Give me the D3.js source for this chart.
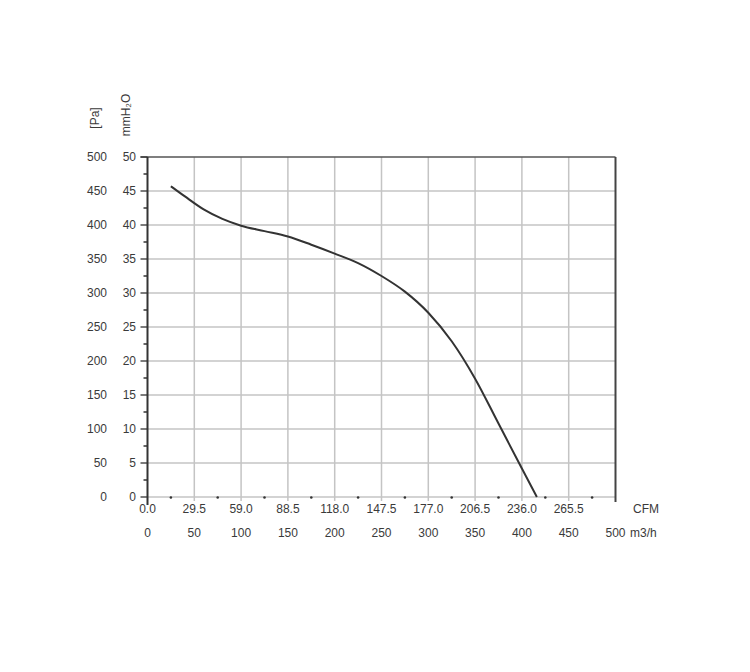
<!DOCTYPE html>
<html>
<head>
<meta charset="utf-8">
<script src="https://cdn.jsdelivr.net/npm/d3@7"></script>
<style>
  html, body { margin: 0; padding: 0; background: #fff; }
  svg text { font-family: "Liberation Sans", Arial, sans-serif; fill: #3a3a3a; }
</style>
</head>
<body>
<svg id="chart" width="750" height="672"></svg>
<script>
// ---- data (airflow m3/h, static pressure Pa) ----
const flowM3h = [25, 40, 60, 80, 100, 125, 150, 175, 200, 225, 250, 275, 300, 325, 350, 375, 400, 416];
const pressurePa = [457, 442, 423, 409, 399, 391, 383, 371, 358, 344, 325, 302, 271, 229, 174, 108, 42, 0];

const m3hTicks = [0, 50, 100, 150, 200, 250, 300, 350, 400, 450, 500];
const cfmLabels = ["0.0", "29.5", "59.0", "88.5", "118.0", "147.5", "177.0", "206.5", "236.0", "265.5"];
const paTicks = [0, 50, 100, 150, 200, 250, 300, 350, 400, 450, 500];
const mmH2OLabels = ["0", "5", "10", "15", "20", "25", "30", "35", "40", "45", "50"];
const dotTicks = [25, 75, 125, 175, 225, 275, 325, 375, 425, 475];
const minorPa = [25, 75, 125, 175, 225, 275, 325, 375, 425, 475];

const svg = d3.select("#chart");
const x = d3.scaleLinear().domain([0, 500]).range([147.5, 615.5]);
const y = d3.scaleLinear().domain([0, 500]).range([497, 157]);

// grid
const g = svg.append("g");
g.selectAll("line.hg").data(paTicks.filter(d => d < 500)).enter().append("line")
  .attr("x1", x(0)).attr("x2", x(500)).attr("y1", d => y(d)).attr("y2", d => y(d))
  .attr("stroke", "#c4c4c4").attr("stroke-width", 1.5);
g.selectAll("line.vg").data(m3hTicks.filter(d => d > 0 && d < 500)).enter().append("line")
  .attr("x1", d => x(d)).attr("x2", d => x(d)).attr("y1", y(500)).attr("y2", y(0) + 4)
  .attr("stroke", "#c4c4c4").attr("stroke-width", 1.5);

// top border
g.append("line").attr("x1", x(0) - 7).attr("x2", x(500)).attr("y1", y(500)).attr("y2", y(500))
  .attr("stroke", "#555").attr("stroke-width", 1.5);
// right border
g.append("line").attr("x1", x(500)).attr("x2", x(500)).attr("y1", y(500)).attr("y2", y(0) + 5)
  .attr("stroke", "#444").attr("stroke-width", 2);
// left axis
g.append("line").attr("x1", x(0)).attr("x2", x(0)).attr("y1", y(500)).attr("y2", y(0) + 8)
  .attr("stroke", "#333").attr("stroke-width", 2);
// left major ticks
g.selectAll("line.mt").data(paTicks).enter().append("line")
  .attr("x1", x(0) - 7).attr("x2", x(0)).attr("y1", d => y(d)).attr("y2", d => y(d))
  .attr("stroke", "#333").attr("stroke-width", 1.3);
// left minor ticks
g.selectAll("line.mn").data(minorPa).enter().append("line")
  .attr("x1", x(0) - 4).attr("x2", x(0)).attr("y1", d => y(d)).attr("y2", d => y(d))
  .attr("stroke", "#333").attr("stroke-width", 1.5);
// bottom dots
g.selectAll("circle.dt").data(dotTicks).enter().append("circle")
  .attr("cx", d => x(d)).attr("cy", y(0) + 0.5).attr("r", 1.3).attr("fill", "#333");

// y labels
svg.selectAll("text.pa").data(paTicks).enter().append("text")
  .attr("x", 107).attr("y", d => y(d) + 4).attr("text-anchor", "end")
  .attr("font-size", 12).text(d => d);
svg.selectAll("text.mm").data(paTicks).enter().append("text")
  .attr("x", 136).attr("y", d => y(d) + 4).attr("text-anchor", "end")
  .attr("font-size", 12).text((d, i) => mmH2OLabels[i]);

// axis titles (rotated)
svg.append("text").attr("transform", "translate(99,118) rotate(-90)")
  .attr("text-anchor", "middle").attr("font-size", 12).text("[Pa]");
svg.append("text").attr("transform", "translate(130,115) rotate(-90)")
  .attr("text-anchor", "middle").attr("font-size", 12).text("mmH₂O");

// x labels
svg.selectAll("text.cfm").data(cfmLabels).enter().append("text")
  .attr("x", (d, i) => x(m3hTicks[i])).attr("y", 513).attr("text-anchor", "middle")
  .attr("font-size", 12).text(d => d);
svg.selectAll("text.m3").data(m3hTicks).enter().append("text")
  .attr("x", d => x(d)).attr("y", 537).attr("text-anchor", "middle")
  .attr("font-size", 12).text(d => d);
svg.append("text").attr("x", 633).attr("y", 513).attr("font-size", 12).text("CFM");
svg.append("text").attr("x", 630).attr("y", 537).attr("font-size", 12).text("m3/h");

// curve
const line = d3.line().x(d => x(d)).y((d, i) => y(pressurePa[i])).curve(d3.curveMonotoneX);
svg.append("path").datum(flowM3h).attr("d", line)
  .attr("fill", "none").attr("stroke", "#333").attr("stroke-width", 2);
</script>
</body>
</html>
